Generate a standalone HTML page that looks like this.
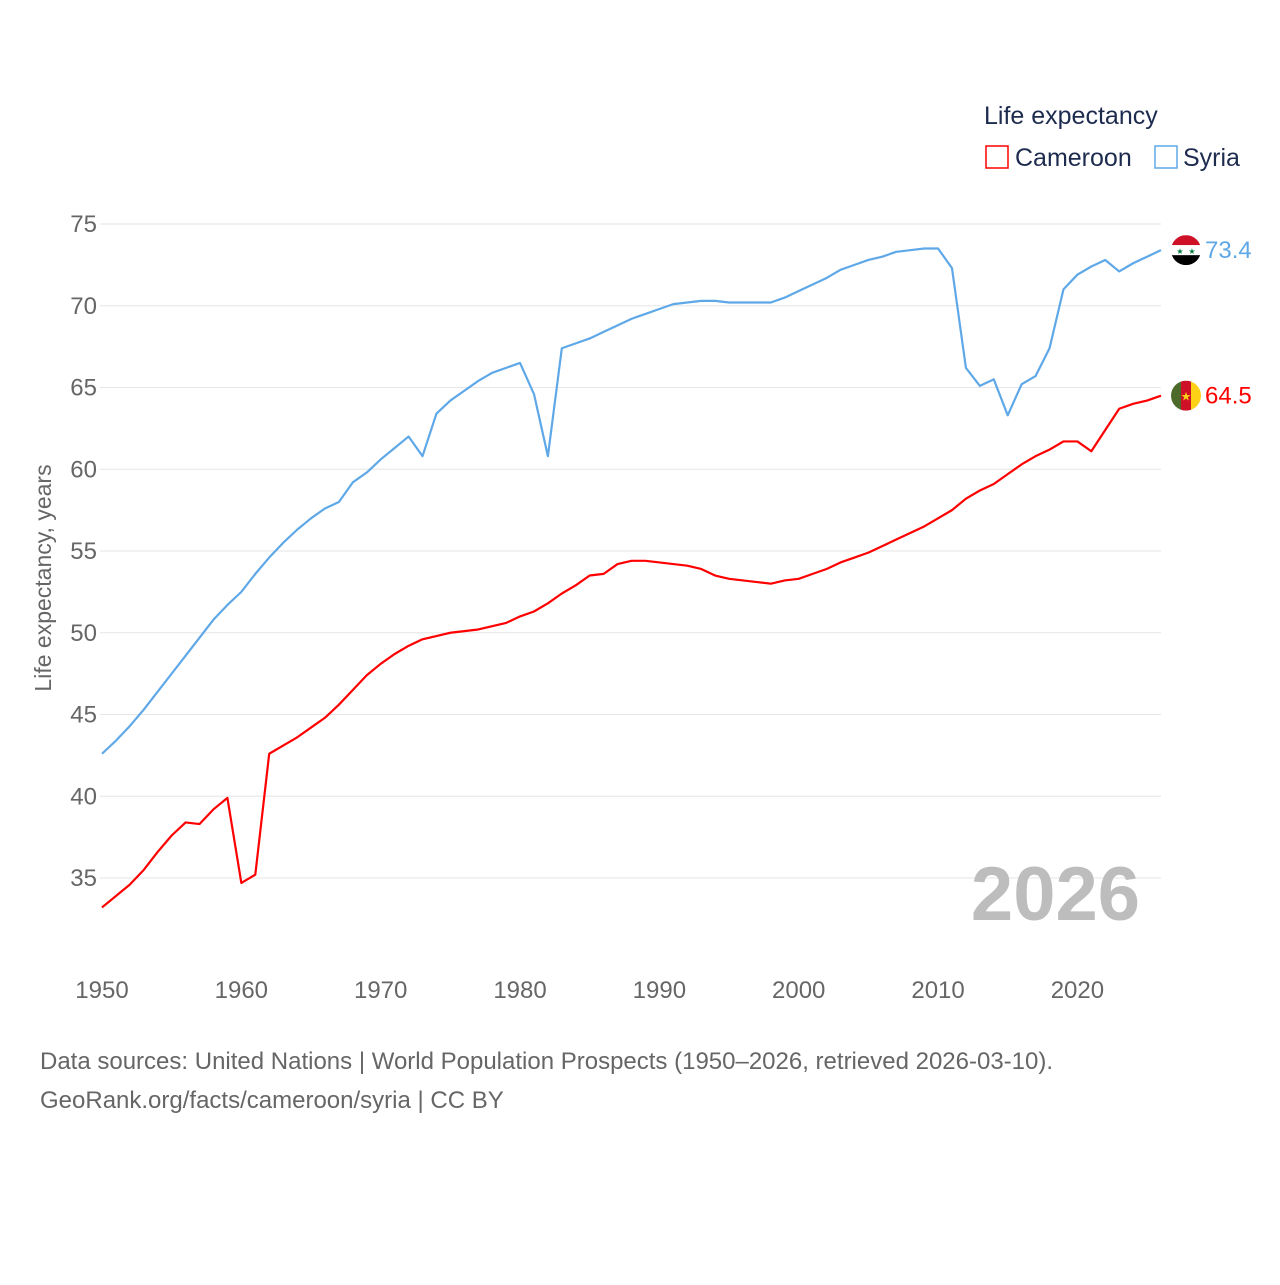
<!DOCTYPE html>
<html><head><meta charset="utf-8"><style>
body{margin:0;background:#fff;font-family:"Liberation Sans",sans-serif}
svg text{font-family:"Liberation Sans",sans-serif}
</style></head><body>
<svg id="chart" width="1280" height="1280">
<g id="grid"></g>
<g id="yticks"></g>
<g id="xticks"></g>
<text transform="translate(51,578) rotate(-90)" text-anchor="middle" font-size="23" fill="#666">Life expectancy, years</text>
<text x="1140" y="920" text-anchor="end" font-size="76" font-weight="bold" fill="#bdbdbd">2026</text>
<g id="series"></g>
<g>
<text x="984" y="124" font-size="25" fill="#1d2b4f">Life expectancy</text>
<rect x="986" y="146" width="22" height="22" fill="none" stroke="#ff0000" stroke-width="1.5"/>
<text x="1015" y="166" font-size="25" fill="#1d2b4f">Cameroon</text>
<rect x="1155" y="146" width="22" height="22" fill="none" stroke="#5fa8e8" stroke-width="1.5"/>
<text x="1183" y="166" font-size="25" fill="#1d2b4f">Syria</text>
</g>
<text x="40" y="1069" font-size="24" fill="#666">Data sources: United Nations | World Population Prospects (1950–2026, retrieved 2026-03-10).</text>
<text x="40" y="1108" font-size="24" fill="#666">GeoRank.org/facts/cameroon/syria | CC BY</text>
</svg>
<script>
const years=[];for(let y=1950;y<=2026;y++)years.push(y);
const syria=[42.6,43.4,44.3,45.3,46.4,47.5,48.6,49.7,50.8,51.7,52.5,53.6,54.6,55.5,56.3,57.0,57.6,58.0,59.2,59.8,60.6,61.3,62.0,60.8,63.4,64.2,64.8,65.4,65.9,66.2,66.5,64.6,60.8,67.4,67.7,68.0,68.4,68.8,69.2,69.5,69.8,70.1,70.2,70.3,70.3,70.2,70.2,70.2,70.2,70.5,70.9,71.3,71.7,72.2,72.5,72.8,73.0,73.3,73.4,73.5,73.5,72.3,66.2,65.1,65.5,63.3,65.2,65.7,67.4,71.0,71.9,72.4,72.8,72.1,72.6,73.0,73.4];
const cameroon=[33.2,33.9,34.6,35.5,36.6,37.6,38.4,38.3,39.2,39.9,34.7,35.2,42.6,43.1,43.6,44.2,44.8,45.6,46.5,47.4,48.1,48.7,49.2,49.6,49.8,50.0,50.1,50.2,50.4,50.6,51.0,51.3,51.8,52.4,52.9,53.5,53.6,54.2,54.4,54.4,54.3,54.2,54.1,53.9,53.5,53.3,53.2,53.1,53.0,53.2,53.3,53.6,53.9,54.3,54.6,54.9,55.3,55.7,56.1,56.5,57.0,57.5,58.2,58.7,59.1,59.7,60.3,60.8,61.2,61.7,61.7,61.1,62.4,63.7,64.0,64.2,64.5];
const yTicks=[35,40,45,50,55,60,65,70,75];
const xTicks=[1950,1960,1970,1980,1990,2000,2010,2020];
const NS='http://www.w3.org/2000/svg';
const X=y=>102+(y-1950)*(1161-102)/76;
const Y=v=>224+(75-v)*(878-224)/40;
function mk(tag,attrs,parent){const e=document.createElementNS(NS,tag);for(const k in attrs)e.setAttribute(k,attrs[k]);document.getElementById(parent).appendChild(e);return e;}
yTicks.forEach(t=>{
 const l=mk('line',{x1:100,x2:1161,y1:Y(t),y2:Y(t),stroke:'#e6e6e6','stroke-width':1},'grid');
 
 
 const tx=mk('text',{x:97,y:Y(t)+8,'text-anchor':'end','font-size':24,fill:'#666'},'yticks');tx.textContent=t;
 
 
});
xTicks.forEach(t=>{
 const tx=mk('text',{x:X(t),y:998,'text-anchor':'middle','font-size':24,fill:'#666'},'xticks');tx.textContent=t;
 
 
});
function line(vals,color,name){
 const p=mk('polyline',{points:vals.map((v,i)=>X(years[i])+','+Y(v)).join(' '),fill:'none',stroke:color,'stroke-width':2.2,'stroke-linejoin':'round'},'series');
 
 
}
line(syria,'#5fa8e8','syria-line');
line(cameroon,'#ff0000','cameroon-line');
const ls=syria[syria.length-1],lc=cameroon[cameroon.length-1];
const g=document.getElementById('series');
const fs=document.createElementNS(NS,'g');g.appendChild(fs);


fs.innerHTML=`<clipPath id="cs"><circle cx="1186" cy="${Y(ls)}" r="15"/></clipPath><g clip-path="url(#cs)"><rect x="1170" y="${Y(ls)-15}" width="32" height="10" fill="#ce1126"/><rect x="1170" y="${Y(ls)-5}" width="32" height="10" fill="#fff"/><rect x="1170" y="${Y(ls)+5}" width="32" height="10" fill="#000"/></g><text x="1180" y="${Y(ls)+4}" font-size="8" fill="#007a3d" text-anchor="middle">★</text><text x="1192" y="${Y(ls)+4}" font-size="8" fill="#007a3d" text-anchor="middle">★</text>`;
const fc=document.createElementNS(NS,'g');g.appendChild(fc);


fc.innerHTML=`<clipPath id="cc"><circle cx="1186" cy="${Y(lc)}" r="15"/></clipPath><g clip-path="url(#cc)"><rect x="1170" y="${Y(lc)-15}" width="11" height="30" fill="#4c6b2a"/><rect x="1181" y="${Y(lc)-15}" width="10" height="30" fill="#ce1126"/><rect x="1191" y="${Y(lc)-15}" width="11" height="30" fill="#fcd116"/></g><text x="1186" y="${Y(lc)+5}" font-size="12" fill="#fcd116" text-anchor="middle">★</text>`;
const ts=mk('text',{x:1205,y:Y(ls)+8,'font-size':24,fill:'#5fa8e8'},'series');ts.textContent=ls.toFixed(1);


const tc=mk('text',{x:1205,y:Y(lc)+8,'font-size':24,fill:'#ff0000'},'series');tc.textContent=lc.toFixed(1);


</script>
</body></html>
